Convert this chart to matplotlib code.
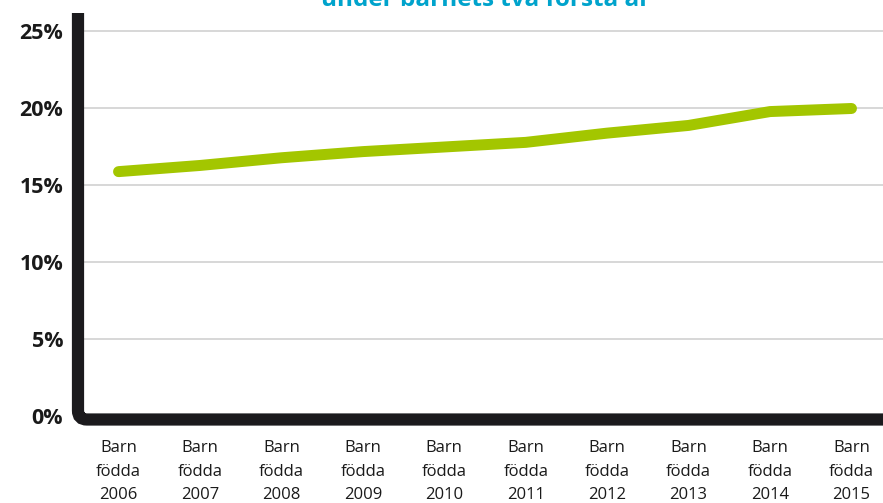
import numpy as np
import matplotlib.pyplot as plt
from matplotlib.path import Path
from matplotlib.patches import PathPatch

years = ['2006', '2007', '2008', '2009', '2010', '2011', '2012', '2013', '2014', '2015']
values = [15.9, 16.3, 16.8, 17.2, 17.5, 17.8, 18.4, 18.9, 19.8, 20.0]
yticks = [0, 5, 10, 15, 20, 25]
ylabels = ['0%', '5%', '10%', '15%', '20%', '25%']
title = 'under barnets två första år'

plt.rcParams['font.family'] = ['Open Sans', 'DejaVu Sans']

W, H = 883, 503
fig = plt.figure(figsize=(W / 100, H / 100), dpi=100)
ax = fig.add_axes([84 / W, (H - 416.5) / H, (W - 84) / W, (416.5 - 13) / H])

x = np.arange(len(years))
ax.plot(x, values, color='#a3c600', linewidth=7.9, solid_capstyle='round',
        solid_joinstyle='round', zorder=3)

ax.set_xlim(-0.424, 9.387)
ax.set_ylim(0, 26.2)
ax.set_yticks(yticks)
ax.set_yticklabels(ylabels, fontsize=15.5, fontweight='bold', color='#1a1a1a')
ax.set_xticks(x)
ax.set_xticklabels(['Barn\nfödda\n' + y for y in years], fontsize=12,
                   color='#1a1a1a', linespacing=1.62)
ax.tick_params(axis='y', length=0, pad=15)
ax.tick_params(axis='x', length=0, pad=17)

for t in yticks[1:]:
    ax.axhline(t, color='#d4d4d4', linewidth=1.3, zorder=1)

for s in ax.spines.values():
    s.set_visible(False)

# axis frame with rounded corner, drawn in pixel coords (top-left origin)
r = 9
pts = [(78, 13), (78, 419.5 - r), (78, 419.5), (78 + r, 419.5), (W, 419.5)]
verts = [(px / W, 1 - py / H) for px, py in pts]
codes = [Path.MOVETO, Path.LINETO, Path.CURVE3, Path.CURVE3, Path.LINETO]
frame = PathPatch(Path(verts, codes), transform=fig.transFigure, fill=False,
                  edgecolor='#1b1a1d', linewidth=8.8, capstyle='butt',
                  clip_on=False, zorder=4)
fig.add_artist(frame)

fig.text(486 / W, 1 - 6 / H, title, ha='center', va='baseline',
         fontsize=17.5, fontweight='bold', color='#00a3cc')

fig.savefig('out.png', dpi=100)
